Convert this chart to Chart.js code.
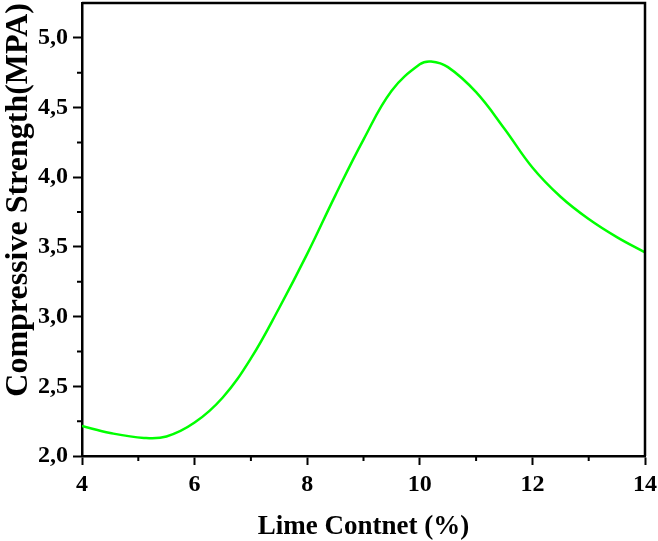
<!DOCTYPE html>
<html>
<head>
<meta charset="utf-8">
<script src="https://cdn.jsdelivr.net/npm/chart.js@4.4.0/dist/chart.umd.min.js"></script>
<style>
  body { margin: 0; background: #fff; }
</style>
</head>
<body>
<canvas id="grafico" width="658" height="541"></canvas>
<script>
// lime content (%) and compressive strength (MPa)
var contenidoCal = [4, 4.5, 5.1, 5.5, 6, 6.5, 7, 7.5, 8, 8.5, 9, 9.5, 10, 10.2, 10.5, 11, 11.5, 12, 12.5, 13, 13.5, 14];
var resistencia = [2.215, 2.165, 2.13, 2.14, 2.24, 2.42, 2.70, 3.06, 3.45, 3.87, 4.27, 4.62, 4.81, 4.83, 4.79, 4.61, 4.35, 4.07, 3.86, 3.70, 3.57, 3.46];
var ticksX = [4, 6, 8, 10, 12, 14];
var ticksY = [2.0, 2.5, 3.0, 3.5, 4.0, 4.5, 5.0];
var menoresX = [5, 7, 9, 11, 13];
var menoresY = [2.25, 2.75, 3.25, 3.75, 4.25, 4.75];

var fuenteTicks = { family: 'Liberation Serif', weight: 'bold', size: 24 };
var fuenteX = { family: 'Liberation Serif', weight: 'bold', size: 27 };
var fuenteY = { family: 'Liberation Serif', weight: 'bold', size: 32 };

// marco superior/derecho y ticks menores
var marco = {
  id: 'marco',
  afterDraw: function (chart) {
    var ctx = chart.ctx, a = chart.chartArea;
    var sx = chart.scales.x, sy = chart.scales.y;
    ctx.save();
    ctx.strokeStyle = '#000';
    ctx.lineWidth = 2.5;
    ctx.beginPath();
    ctx.moveTo(a.left, a.top);
    ctx.lineTo(a.right, a.top);
    ctx.lineTo(a.right, a.bottom);
    ctx.stroke();
    ctx.lineWidth = 2;
    ctx.beginPath();
    menoresX.forEach(function (v) {
      var px = sx.getPixelForValue(v);
      ctx.moveTo(px, a.bottom);
      ctx.lineTo(px, a.bottom + 5);
    });
    menoresY.forEach(function (v) {
      var py = sy.getPixelForValue(v);
      ctx.moveTo(a.left, py);
      ctx.lineTo(a.left - 5, py);
    });
    ctx.stroke();
    ctx.restore();
  }
};

var ctx = document.getElementById('grafico').getContext('2d');
new Chart(ctx, {
  type: 'line',
  data: {
    datasets: [{
      data: contenidoCal.map(function (x, i) { return { x: x, y: resistencia[i] }; }),
      borderColor: '#00ff00',
      borderWidth: 2.5,
      pointRadius: 0,
      fill: false,
      tension: 0.4
    }]
  },
  options: {
    responsive: false,
    animation: false,
    layout: { padding: { top: 3, right: 13, left: 0, bottom: 0 } },
    plugins: { legend: { display: false }, tooltip: { enabled: false } },
    scales: {
      x: {
        type: 'linear',
        min: 4,
        max: 14,
        afterBuildTicks: function (s) { s.ticks = ticksX.map(function (v) { return { value: v }; }); },
        afterFit: function (s) { s.height = 85; s.paddingLeft = 0; s.paddingRight = 0; },
        border: { display: true, color: '#000', width: 2.5 },
        grid: { drawOnChartArea: false, drawTicks: true, tickLength: 9, tickColor: '#000', tickWidth: 2 },
        ticks: { color: '#000', font: fuenteTicks, padding: 5, maxRotation: 0 },
        title: { display: true, text: 'Lime Contnet (%)', color: '#000', font: fuenteX, padding: { top: 0, bottom: -2 } }
      },
      y: {
        min: 2,
        max: 5.25,
        afterBuildTicks: function (s) { s.ticks = ticksY.map(function (v) { return { value: v }; }); },
        afterFit: function (s) { s.width = 82; s.paddingTop = 0; s.paddingBottom = 0; },
        border: { display: true, color: '#000', width: 2.5 },
        grid: { drawOnChartArea: false, drawTicks: true, tickLength: 9, tickColor: '#000', tickWidth: 2 },
        ticks: {
          color: '#000', font: fuenteTicks, padding: 5,
          callback: function (v) { return v.toFixed(1).replace('.', ','); }
        },
        title: {
          display: true, text: 'Compressive Strength(MPA)', color: '#000', font: fuenteY,
          align: 'end', padding: { top: 0, bottom: 0 }
        }
      }
    }
  },
  plugins: [marco]
});
</script>
</body>
</html>
